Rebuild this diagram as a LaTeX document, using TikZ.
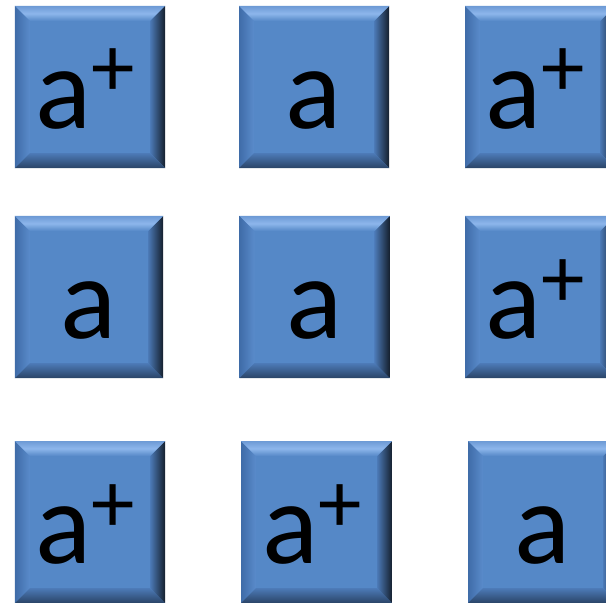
\documentclass[tikz,border=0pt]{standalone}
\usepackage{fontspec}
\setmainfont{Carlito}
\definecolor{face}{HTML}{5588C7}
\definecolor{topA}{HTML}{6D9AD5}
\definecolor{topB}{HTML}{8DB6EB}
\definecolor{leftA}{HTML}{3F6CA8}
\definecolor{leftB}{HTML}{5A8BCB}
\definecolor{rightA}{HTML}{4C7AB7}
\definecolor{rightB}{HTML}{15202E}
\definecolor{botA}{HTML}{4D7BB8}
\definecolor{botB}{HTML}{2A4467}
\newcommand{\bw}{15bp}
\newcommand{\ap}{a\kern0bp\raisebox{31bp}{\fontsize{87bp}{87bp}\selectfont +}\kern9bp}
\tikzset{
  bevelbox/.style={minimum width=150bp, minimum height=162bp, inner sep=0pt,
    fill=face, text height=82bp, text depth=0pt,
    font=\fontsize{117bp}{117bp}\selectfont,
    path picture={
      \coordinate (NW) at (path picture bounding box.north west);
      \coordinate (NE) at (path picture bounding box.north east);
      \coordinate (SW) at (path picture bounding box.south west);
      \coordinate (SE) at (path picture bounding box.south east);
      \shade[left color=leftA, right color=leftB]
        (NW) -- ([shift={(\bw,-\bw)}]NW) -- ([shift={(\bw,\bw)}]SW) -- (SW) -- cycle;
      \shade[left color=rightA, right color=rightB]
        (NE) -- ([shift={(-\bw,-\bw)}]NE) -- ([shift={(-\bw,\bw)}]SE) -- (SE) -- cycle;
      \shade[top color=topA, bottom color=face, middle color=topB]
        (NW) -- (NE) -- ([shift={(-\bw,-\bw)}]NE) -- ([shift={(\bw,-\bw)}]NW) -- cycle;
      \shade[top color=botA, bottom color=botB]
        (SW) -- (SE) -- ([shift={(-\bw,\bw)}]SE) -- ([shift={(\bw,\bw)}]SW) -- cycle;
    }}
}
\begin{document}
\begin{tikzpicture}[x=1bp,y=-1bp]
\useasboundingbox (0,0) rectangle (606,603);
\node[bevelbox] (b11) at (90,87) {\ap};
\node[bevelbox] (b12) at (314,87) {a};
\node[bevelbox] (b13) at (540,87) {\ap};
\node[bevelbox, minimum width=148bp] (b21) at (89,297) {a};
\node[bevelbox] (b22) at (314.5,297) {a};
\node[bevelbox] (b23) at (540,297) {\ap};
\node[bevelbox] (b31) at (90,522) {\ap};
\node[bevelbox, minimum width=151bp] (b32) at (316.5,522) {\ap};
\node[bevelbox] (b33) at (543,522) {a};
\end{tikzpicture}
\end{document}
